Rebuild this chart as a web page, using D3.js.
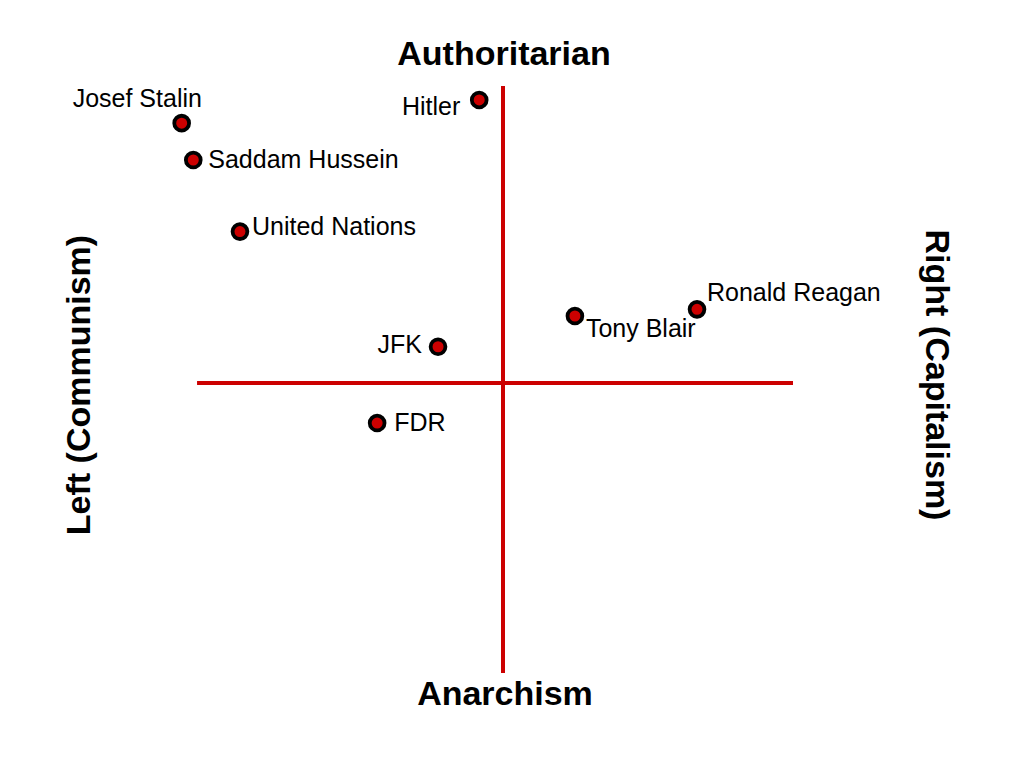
<!DOCTYPE html>
<html>
<head>
<meta charset="utf-8">
<script src="https://cdn.jsdelivr.net/npm/d3@7"></script>
<style>
  html, body { margin: 0; padding: 0; background: #fff; }
  svg { display: block; font-family: "Liberation Sans", Arial, sans-serif; }
</style>
</head>
<body>
<svg id="chart" width="1024" height="768"></svg>
<script>
// ---- data ----
const names = ["Josef Stalin", "Saddam Hussein", "United Nations", "Hitler",
               "Ronald Reagan", "Tony Blair", "JFK", "FDR"];
const economic = [-11.08, -10.68, -9.07, -0.82, 6.69, 2.48, -2.24, -4.34];   // left (-) / right (+)
const social   = [8.96, 7.69, 5.22, 9.76, 2.54, 2.31, 1.25, -1.38];          // anarchism (-) / authoritarian (+)
const axisTitles = { top: "Authoritarian", bottom: "Anarchism", left: "Left (Communism)", right: "Right (Capitalism)" };
const xExtent = [-10.55, 10];
const yExtent = [-10, 10.24];

// ---- label placement (styling) ----
const labelAnchor = ["start", "start", "start", "end", "start", "start", "end", "start"];
const labelDx = [-109, 15, 12, -19, 10, 11, -16, 17];
const labelDy = [-16, 8, 3, 15, -8, 21, 6, 8];

const svg = d3.select("#chart");
const red = "#cc0000";

const x = d3.scaleLinear().domain([-10, 10]).range([213, 793]);
const y = d3.scaleLinear().domain([-10, 10]).range([673, 93]);

// axes lines
svg.append("line")
  .attr("x1", x(xExtent[0])).attr("x2", x(xExtent[1]))
  .attr("y1", y(0)).attr("y2", y(0))
  .attr("stroke", red).attr("stroke-width", 4);
svg.append("line")
  .attr("x1", x(0)).attr("x2", x(0))
  .attr("y1", y(yExtent[0])).attr("y2", y(yExtent[1]))
  .attr("stroke", red).attr("stroke-width", 4);

// axis titles
svg.append("text").attr("x", x(0) + 1).attr("y", 65)
  .attr("text-anchor", "middle").attr("font-size", 34).attr("font-weight", "bold")
  .text(axisTitles.top);
svg.append("text").attr("x", x(0) + 2).attr("y", 705)
  .attr("text-anchor", "middle").attr("font-size", 34).attr("font-weight", "bold")
  .text(axisTitles.bottom);
svg.append("text")
  .attr("transform", "translate(90,385) rotate(-90)")
  .attr("text-anchor", "middle").attr("font-size", 34).attr("font-weight", "bold")
  .text(axisTitles.left);
svg.append("text")
  .attr("transform", "translate(926,375) rotate(90)")
  .attr("text-anchor", "middle").attr("font-size", 34).attr("font-weight", "bold")
  .text(axisTitles.right);

const data = names.map((n, i) => ({ name: n, ex: economic[i], so: social[i], i }));

// points
svg.append("g").selectAll("circle").data(data).join("circle")
  .attr("cx", d => x(d.ex)).attr("cy", d => y(d.so))
  .attr("r", 7.4)
  .attr("fill", red).attr("stroke", "#000").attr("stroke-width", 3.8);

// labels
svg.append("g").selectAll("text").data(data).join("text")
  .attr("x", d => x(d.ex) + labelDx[d.i])
  .attr("y", d => y(d.so) + labelDy[d.i])
  .attr("text-anchor", d => labelAnchor[d.i])
  .attr("font-size", 25)
  .attr("fill", "#000")
  .text(d => d.name);
</script>
</body>
</html>
